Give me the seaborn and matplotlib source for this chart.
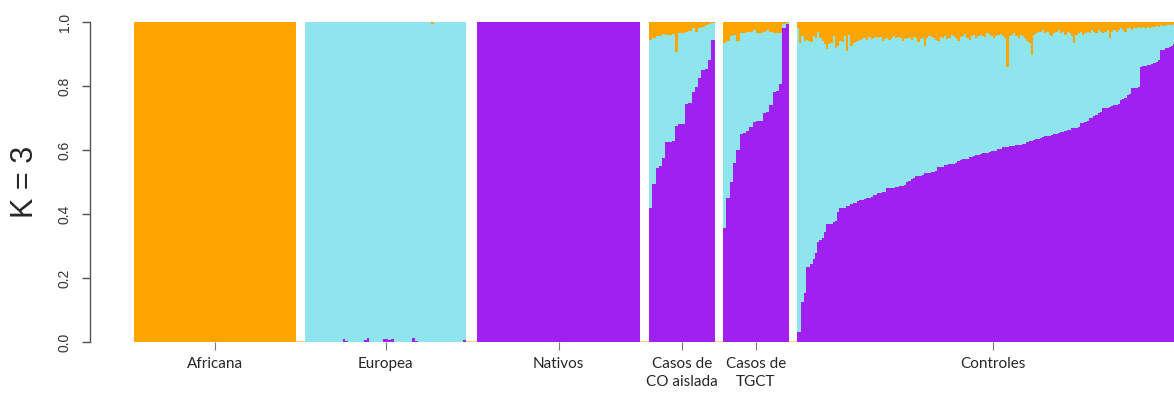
import numpy as np
import matplotlib
matplotlib.use("Agg")
import matplotlib.pyplot as plt
import seaborn as sns

# ---- data: ancestry proportions per individual (K = 3) ----
grupos = ["Africana", "Europea", "Nativos", "Casos de\nCO aislada", "Casos de\nTGCT", "Controles"]
componentes = ["Africano", "Europeo", "Nativo"]
yticks = [0.0, 0.2, 0.4, 0.6, 0.8, 1.0]

# African (orange) and Native (purple) shares; the European share is the remainder
africana_af = [1.0] * 60
africana_na = [0.0] * 60

europea_af = [0.0] * 47 + [0.006] + [0.0] * 12
europea_na = [0, 0, 0, 0, 0, 0, 0, 0, 0, 0,
              0, 0, 0, 0, 0.01, 0.004, 0, 0, 0, 0,
              0, 0, 0.006, 0.012, 0, 0, 0, 0, 0, 0.008,
              0.01, 0.006, 0.01, 0, 0, 0, 0, 0, 0, 0,
              0.012, 0.004, 0, 0, 0, 0, 0, 0, 0, 0,
              0, 0, 0, 0, 0, 0, 0, 0, 0, 0.006]

nativos_af = [0.0] * 60
nativos_na = [1.0] * 60

co_af = [0.055, 0.05, 0.045, 0.045, 0.038, 0.04, 0.04, 0.038, 0.095, 0.035,
         0.035, 0.03, 0.028, 0.018, 0.03, 0.02, 0.015, 0.01, 0.006, 0.004]
co_na = [0.42, 0.493, 0.545, 0.55, 0.574, 0.624, 0.624, 0.627, 0.675, 0.68,
         0.68, 0.744, 0.746, 0.78, 0.798, 0.826, 0.85, 0.853, 0.881, 0.944]

tgct_af = [0.065, 0.06, 0.045, 0.04, 0.06, 0.035, 0.035, 0.03, 0.03, 0.025,
           0.035, 0.035, 0.03, 0.025, 0.03, 0.035, 0.035, 0.035, 0.005, 0.003]
tgct_na = [0.357, 0.45, 0.50, 0.558, 0.60, 0.65, 0.652, 0.66, 0.673, 0.686,
           0.69, 0.69, 0.715, 0.718, 0.74, 0.78, 0.785, 0.805, 0.98, 0.993]

controles_af = [0.02, 0.065, 0.045, 0.06, 0.055, 0.058, 0.064, 0.045, 0.05, 0.03,
                0.05, 0.058, 0.07, 0.085, 0.068, 0.065, 0.045, 0.08, 0.075, 0.058,
                0.062, 0.045, 0.09, 0.042, 0.075, 0.066, 0.062, 0.06, 0.055, 0.05,
                0.05, 0.055, 0.048, 0.052, 0.05, 0.046, 0.05, 0.047, 0.06, 0.052,
                0.05, 0.055, 0.05, 0.045, 0.05, 0.046, 0.05, 0.058, 0.052, 0.05,
                0.05, 0.055, 0.048, 0.05, 0.062, 0.052, 0.05, 0.074, 0.05, 0.045,
                0.048, 0.05, 0.055, 0.06, 0.047, 0.05, 0.045, 0.052, 0.05, 0.04,
                0.045, 0.05, 0.058, 0.048, 0.045, 0.038, 0.05, 0.055, 0.045, 0.042,
                0.05, 0.045, 0.04, 0.045, 0.048, 0.035, 0.04, 0.045, 0.05, 0.045,
                0.04, 0.038, 0.045, 0.05, 0.14, 0.045, 0.04, 0.035, 0.045, 0.05,
                0.04, 0.045, 0.05, 0.06, 0.065, 0.103, 0.04, 0.035, 0.03, 0.03,
                0.025, 0.035, 0.03, 0.04, 0.045, 0.035, 0.03, 0.025, 0.035, 0.03,
                0.04, 0.03, 0.035, 0.045, 0.066, 0.04, 0.035, 0.03, 0.04, 0.035,
                0.03, 0.035, 0.025, 0.03, 0.035, 0.025, 0.03, 0.035, 0.03, 0.025,
                0.05, 0.03, 0.025, 0.03, 0.025, 0.02, 0.025, 0.03, 0.02, 0.02,
                0.025, 0.02, 0.02, 0.015, 0.02, 0.015, 0.02, 0.015, 0.02, 0.015,
                0.015, 0.012, 0.015, 0.01, 0.012, 0.01, 0.008, 0.01, 0.008, 0.006,
                0.006, 0.005, 0.005, 0.004, 0.004, 0.003]
controles_na = [0.03, 0.03, 0.126, 0.152, 0.235, 0.235, 0.245, 0.26, 0.277, 0.313,
                0.318, 0.324, 0.345, 0.369, 0.369, 0.37, 0.376, 0.378, 0.407, 0.418,
                0.418, 0.42, 0.425, 0.425, 0.43, 0.433, 0.435, 0.44, 0.444, 0.444,
                0.446, 0.449, 0.449, 0.452, 0.459, 0.46, 0.466, 0.466, 0.468, 0.47,
                0.48, 0.48, 0.481, 0.482, 0.483, 0.485, 0.486, 0.488, 0.49, 0.501,
                0.502, 0.51, 0.512, 0.519, 0.519, 0.52, 0.522, 0.527, 0.528, 0.529,
                0.53, 0.532, 0.535, 0.546, 0.547, 0.548, 0.553, 0.553, 0.555, 0.556,
                0.557, 0.56, 0.567, 0.568, 0.571, 0.572, 0.573, 0.578, 0.578, 0.58,
                0.584, 0.585, 0.586, 0.59, 0.59, 0.592, 0.595, 0.596, 0.597, 0.598,
                0.602, 0.603, 0.608, 0.608, 0.61, 0.6125, 0.613, 0.614, 0.616, 0.616,
                0.617, 0.618, 0.619, 0.626, 0.627, 0.628, 0.63, 0.633, 0.634, 0.636,
                0.642, 0.643, 0.644, 0.645, 0.647, 0.65, 0.651, 0.652, 0.656, 0.657,
                0.658, 0.6625, 0.664, 0.668, 0.668, 0.67, 0.672, 0.683, 0.685, 0.687,
                0.692, 0.699, 0.7, 0.706, 0.708, 0.715, 0.72, 0.73, 0.731, 0.732,
                0.735, 0.736, 0.74, 0.742, 0.745, 0.756, 0.76, 0.762, 0.772, 0.775,
                0.793, 0.794, 0.795, 0.797, 0.86, 0.861, 0.862, 0.866, 0.866, 0.868,
                0.872, 0.875, 0.881, 0.9125, 0.914, 0.92, 0.92, 0.923, 0.925, 0.93,
                0.935, 0.94, 0.95, 0.96, 0.97, 0.98]

afr_por_grupo = [africana_af, europea_af, nativos_af, co_af, tgct_af, controles_af]
nat_por_grupo = [africana_na, europea_na, nativos_na, co_na, tgct_na, controles_na]

# ---- layout: horizontal span of every population block (axis units) ----
inicio = [44, 215, 387, 559, 633, 707]
ancho = [162, 161, 163, 65.5, 66, 392]

sns.set_style("white")
paleta = dict(zip(componentes, ["#FFA500", "#8EE5EE", "#A020F0"]))

fig = plt.figure(figsize=(11.74, 3.93), dpi=100)
ax = fig.add_axes([90 / 1174, 51 / 393, 1084 / 1174, 320 / 393])

# thin orange baseline visible between population blocks
ax.hlines(0, inicio[0], 1084, color="#FFC46A", lw=2.0, zorder=0)

centros_grupo = []
for s, w, af, na in zip(inicio, ancho, afr_por_grupo, nat_por_grupo):
    af = np.asarray(af, float)
    na = np.asarray(na, float)
    eu = 1.0 - af - na
    n = len(af)
    bw = w / n
    x = s + bw * np.arange(n)
    centros_grupo.append(s + w / 2)
    base = np.zeros(n)
    # stacked from the bottom: Native, European, African
    for comp, q in [("Nativo", na), ("Europeo", eu), ("Africano", af)]:
        ax.bar(x, q, width=bw, bottom=base, align="edge",
               color=paleta[comp], linewidth=0, antialiased=False, zorder=2)
        base = base + q

ax.set_xlim(0, 1084)
ax.set_ylim(0, 1)
for side in ["top", "right", "bottom"]:
    ax.spines[side].set_visible(False)
ax.spines["left"].set_color("#555555")
ax.spines["left"].set_linewidth(1.0)

ax.set_yticks(yticks)
ax.set_yticklabels([f"{v:.1f}" for v in yticks], rotation=90, va="center",
                   fontsize=10, color="#333333", family="Liberation Sans")
ax.tick_params(axis="y", left=True, length=6, width=1.0, color="#555555", pad=7)

ax.set_xticks(centros_grupo)
ax.set_xticklabels(grupos, fontsize=11, family="Lato", linespacing=1.3)
ax.tick_params(axis="x", bottom=True, length=6, width=0.8, color="#777777", pad=5)

fig.text(25 / 1174, (393 - 182) / 393, "K = 3", rotation=90, ha="center",
         va="center", fontsize=22, family="Liberation Sans")

fig.savefig("out.png", dpi=100)
